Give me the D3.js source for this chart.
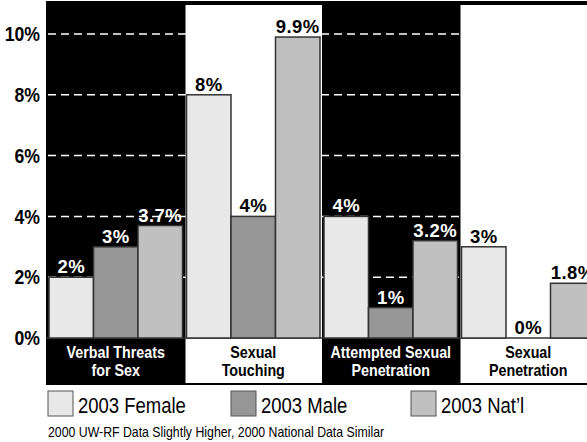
<!DOCTYPE html>
<html>
<head>
<meta charset="utf-8">
<script src="https://cdn.jsdelivr.net/npm/d3@7"></script>
<style>
  body { margin: 0; background: #fff; }
  svg { display: block; }
  text { font-family: 'Liberation Sans', Arial, sans-serif; }
</style>
</head>
<body>
<svg id="chart"></svg>
<script>
// categories (two text lines each) and series
const categories = ["Verbal Threats|for Sex", "Sexual|Touching", "Attempted Sexual|Penetration", "Sexual|Penetration"];
const seriesNames = ["2003 Female", "2003 Male", "2003 Nat\u2019l"];
const female = [2, 8, 4, 3];
const male = [3, 4, 1, 0];
const national = [3.7, 9.9, 3.2, 1.8];
const valueLabels = [
    ["2%", "3%", "3.7%"],
    ["8%", "4%", "9.9%"],
    ["4%", "1%", "3.2%"],
    ["3%", "0%", "1.8%"]
];
const yTicks = [0, 2, 4, 6, 8, 10];
const footnote = "2000 UW-RF Data Slightly Higher, 2000 National Data Similar";

const seriesColors = ["#e8e8e8", "#969696", "#c0c0c0"];

// squeeze text horizontally to mimic a narrow face
function narrow(sel, factor) {
    sel.each(function () {
        const w = this.getComputedTextLength();
        d3.select(this)
            .attr("textLength", w * factor)
            .attr("lengthAdjust", "spacingAndGlyphs");
    });
}

function drawChart() {
    const width = 587;
    const height = 442;
    const left = 46;
    const baseY = 338;

    const svg = d3.select("#chart")
        .attr("width", width)
        .attr("height", height);

    const x0 = d3.scaleBand()
        .domain(categories)
        .range([left + 1, left + 1 + 4 * 137.5])
        .padding(0);

    const x1 = d3.scaleBand()
        .domain(seriesNames)
        .range([0, x0.bandwidth()])
        .paddingInner(0)
        .paddingOuter(0.045);

    const y = d3.scaleLinear()
        .domain([0, 11])
        .range([baseY, baseY - 11 * 30.4]);

    const values = [female, male, national];
    const data = categories.map((c, i) => ({
        cat: c,
        index: i,
        bars: seriesNames.map((s, j) => ({ s: s, j: j, v: values[j][i], label: valueLabels[i][j], dark: i % 2 === 0 }))
    }));

    // black backdrop for plot + category strip
    svg.append("rect")
        .attr("x", left)
        .attr("y", 1)
        .attr("width", x0.range()[1] - left)
        .attr("height", 384)
        .attr("fill", "#000");

    // white panels for every second group
    svg.append("g")
        .selectAll("rect")
        .data(data.filter(d => d.index % 2 === 1))
        .enter().append("rect")
        .attr("x", d => x0(d.cat) + 1)
        .attr("y", 5)
        .attr("width", x0.bandwidth() - 1)
        .attr("height", 378)
        .attr("fill", "#fff");

    // dashed grid lines
    svg.append("g")
        .selectAll("line")
        .data(yTicks.filter(t => t > 0))
        .enter().append("line")
        .attr("x1", left + 2)
        .attr("x2", x0.range()[1])
        .attr("y1", d => y(d))
        .attr("y2", d => y(d))
        .attr("stroke", "#fff")
        .attr("stroke-width", 1.5)
        .attr("stroke-dasharray", "8,5");

    // baseline
    svg.append("line")
        .attr("x1", left)
        .attr("x2", x0.range()[1])
        .attr("y1", baseY)
        .attr("y2", baseY)
        .attr("stroke", "#333")
        .attr("stroke-width", 1.5);

    const group = svg.append("g")
        .selectAll("g")
        .data(data)
        .enter().append("g")
        .attr("transform", d => `translate(${x0(d.cat)},0)`);

    group.selectAll("rect")
        .data(d => d.bars)
        .enter().append("rect")
        .attr("x", d => x1(d.s))
        .attr("y", d => y(d.v))
        .attr("width", x1.bandwidth())
        .attr("height", d => baseY - y(d.v))
        .attr("fill", d => seriesColors[d.j])
        .attr("stroke", d => d.v === 0 ? "#000" : "#333")
        .attr("stroke-width", d => d.v === 0 ? 3 : 1.5);

    // value labels
    group.selectAll("text")
        .data(d => d.bars)
        .enter().append("text")
        .attr("x", d => x1(d.s) + x1.bandwidth() / 2)
        .attr("y", d => y(d.v) - 4)
        .attr("text-anchor", "middle")
        .attr("font-weight", "bold")
        .attr("font-size", 18.5)
        .attr("letter-spacing", 0.5)
        .attr("fill", d => d.dark ? "#fff" : "#000")
        .text(d => d.label);

    // category labels
    const catText = svg.append("g")
        .selectAll("text")
        .data(data)
        .enter().append("text")
        .attr("x", d => x0(d.cat) + x0.bandwidth() / 2)
        .attr("y", 358)
        .attr("text-anchor", "middle")
        .attr("font-weight", "bold")
        .attr("font-size", 17)
        .attr("fill", d => d.index % 2 === 0 ? "#fff" : "#000");

    const catLines = catText.selectAll("tspan")
        .data(d => d.cat.split("|"))
        .enter().append("tspan")
        .attr("x", function () { return d3.select(this.parentNode).attr("x"); })
        .attr("dy", (d, i) => i === 0 ? 0 : 18)
        .text(d => d);
    narrow(catLines, 0.84);

    // y axis
    const yAxis = svg.append("g")
        .attr("transform", `translate(${left},0)`)
        .call(d3.axisLeft(y).tickValues(yTicks).tickSize(0).tickPadding(6).tickFormat(d => d + "%"));
    yAxis.select(".domain").remove();
    yAxis.selectAll("text")
        .attr("font-family", "'Liberation Sans', Arial, sans-serif")
        .attr("font-weight", "bold")
        .attr("font-size", 21)
        .attr("fill", "#000");
    narrow(yAxis.selectAll("text"), 0.84);

    // legend
    const legendX = [48, 231, 411];
    const legend = svg.append("g")
        .selectAll("g")
        .data(seriesNames)
        .enter().append("g")
        .attr("transform", (d, i) => `translate(${legendX[i]},391)`);

    legend.append("rect")
        .attr("width", 25)
        .attr("height", 25)
        .attr("fill", (d, i) => seriesColors[i])
        .attr("stroke", "#555")
        .attr("stroke-width", 1);

    const legendText = legend.append("text")
        .attr("x", 30)
        .attr("y", 22)
        .attr("font-size", 22)
        .attr("fill", "#000")
        .text(d => d);
    narrow(legendText, 0.84);

    const foot = svg.append("text")
        .attr("x", 48)
        .attr("y", 437)
        .attr("font-size", 15)
        .attr("fill", "#000")
        .text(footnote);
    narrow(foot, 0.82);
}

drawChart();
</script>
</body>
</html>
